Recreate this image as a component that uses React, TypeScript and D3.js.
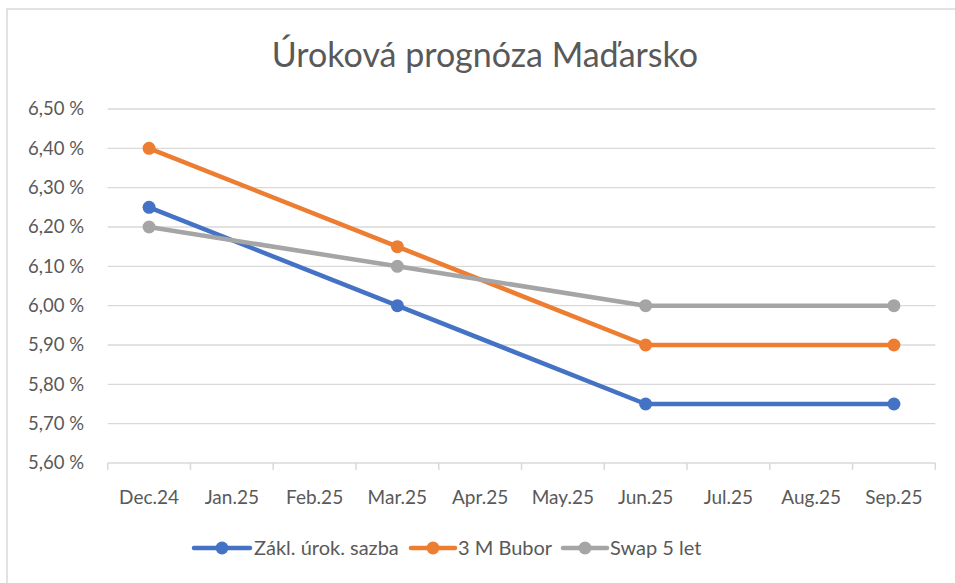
import React from "react";
import * as d3 from "d3";

const categories = ["Dec.24","Jan.25","Feb.25","Mar.25","Apr.25","May.25","Jun.25","Jul.25","Aug.25","Sep.25"];
const seriesNames = ["Zákl. úrok. sazba", "3 M Bubor", "Swap 5 let"];
const seriesColors = ["#4472C4", "#ED7D31", "#A5A5A5"];
const zakl: (number | null)[] = [6.25, null, null, 6.0, null, null, 5.75, null, null, 5.75];
const bubor: (number | null)[] = [6.4, null, null, 6.15, null, null, 5.9, null, null, 5.9];
const swap: (number | null)[] = [6.2, null, null, 6.1, null, null, 6.0, null, null, 6.0];
const yTicks = [5.6, 5.7, 5.8, 5.9, 6.0, 6.1, 6.2, 6.3, 6.4, 6.5];
const title = "Úroková prognóza Maďarsko";

const FONT = "Lato, 'Open Sans', sans-serif";
const TXT = "#595959";

export default function App() {
  const W = 955, H = 583;
  const left = 107.7, right = 935.3, top = 109, bottom = 463;
  const x = d3.scaleBand<string>().domain(categories).range([left, right]);
  const y = d3.scaleLinear().domain([5.6, 6.5]).range([bottom, top]);
  const cx = (c: string) => (x(c) as number) + x.bandwidth() / 2;
  const allSeries = [zakl, bubor, swap];
  const line = d3.line<{ c: string; v: number }>().x(d => cx(d.c)).y(d => y(d.v));
  const legendItems = [
    { x0: 194, tx: 254 },
    { x0: 411, tx: 458 },
    { x0: 563, tx: 610 },
  ];
  const legendLens = [56, 44, 44];
  return (
    <svg width={W} height={H} style={{ position: "absolute", left: 0, top: 0, background: "#fff" }}>
      <rect x={7} y={9} width={W} height={H} fill="#fff" stroke="#d9d9d9" strokeWidth={1.5} />
      <text x={485} y={55} dy="0.35em" textAnchor="middle" fontFamily={FONT} fontSize={34} fill={TXT}>{title}</text>
      {yTicks.map(t => (
        <g key={t}>
          {t > 5.6 && <line x1={left} x2={right} y1={y(t)} y2={y(t)} stroke="#d9d9d9" strokeWidth={1.3} />}
          <text x={84} y={y(t)} dy="0.35em" textAnchor="end" fontFamily={FONT} fontSize={18.5} fill={TXT}>
            {t.toFixed(2).replace(".", ",") + " %"}
          </text>
        </g>
      ))}
      <line x1={left} x2={right} y1={bottom} y2={bottom} stroke="#d9d9d9" strokeWidth={1.5} />
      {d3.range(categories.length + 1).map(i => {
        const xx = left + i * x.bandwidth();
        return <line key={i} x1={xx} x2={xx} y1={bottom} y2={bottom + 7} stroke="#d9d9d9" strokeWidth={1.5} />;
      })}
      {categories.map(c => (
        <text key={c} x={cx(c)} y={497} dy="0.35em" textAnchor="middle" fontFamily={FONT} fontSize={19} fill={TXT}>{c}</text>
      ))}
      {allSeries.map((s, si) => {
        const pts = categories.map((c, i) => ({ c, v: s[i] })).filter(d => d.v != null) as { c: string; v: number }[];
        return (
          <g key={si}>
            <path d={line(pts) || ""} fill="none" stroke={seriesColors[si]} strokeWidth={4.5} strokeLinejoin="round" strokeLinecap="round" />
            {pts.map(p => <circle key={p.c} cx={cx(p.c)} cy={y(p.v)} r={6.5} fill={seriesColors[si]} />)}
          </g>
        );
      })}
      {seriesNames.map((n, i) => {
        const L = legendItems[i];
        const len = legendLens[i];
        return (
          <g key={n}>
            <line x1={L.x0} x2={L.x0 + len} y1={548} y2={548} stroke={seriesColors[i]} strokeWidth={4.5} strokeLinecap="round" />
            <circle cx={L.x0 + len / 2} cy={548} r={6.5} fill={seriesColors[i]} />
            <text x={L.tx} y={548} dy="0.35em" fontFamily={FONT} fontSize={20} fill={TXT}>{n}</text>
          </g>
        );
      })}
    </svg>
  );
}
